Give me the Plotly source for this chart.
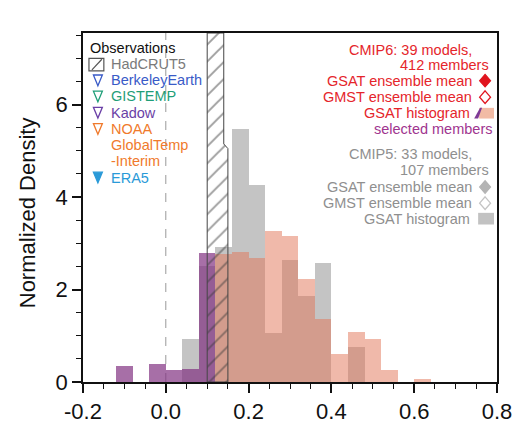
import numpy as np
import plotly.graph_objects as go

# ---- data -------------------------------------------------------------
bin_width = 0.04
bin_left = [-0.12, -0.08, -0.04, 0.00, 0.04, 0.08, 0.12, 0.16, 0.20, 0.24,
            0.28, 0.32, 0.36, 0.40, 0.44, 0.48, 0.52, 0.56, 0.60]
cmip5_gsat_hist = [0, 0, 0, 0, 0.92, 2.50, 2.92, 5.48, 4.27, 1.06,
                   2.64, 1.87, 2.57, 0, 0.76, 0, 0, 0, 0]
cmip6_gsat_hist = [0, 0, 0, 0, 0, 0, 2.76, 2.82, 2.69, 3.26,
                   3.16, 2.23, 1.37, 0.60, 1.08, 0.92, 0.26, 0, 0.07]
selected_hist = [0.34, 0, 0.39, 0.25, 0.29, 2.79, 0, 0, 0, 0,
                 0, 0, 0, 0, 0, 0, 0, 0, 0]

# HadCRUT5 range (x) with the step height where the range narrows
hadcrut_x = [0.10, 0.15, 0.15, 0.14, 0.14, 0.10, 0.10]
hadcrut_y = [0, 0, 5.05, 5.15, 7.55, 7.55, 0]

obs_names = ["NOAA", "Kadow", "GISTEMP", "BerkeleyEarth", "ERA5"]
obs_values = [0.117, 0.122, 0.125, 0.128, 0.131]
obs_colors = ["#F07A2C", "#6A3FA6", "#1F9E78", "#3A5BC7", "#2A9AD8"]
obs_symbols = ["triangle-down-open"] * 4 + ["triangle-down"]

ens_names = ["CMIP5 GMST", "CMIP5 GSAT", "CMIP6 GMST", "CMIP6 GSAT"]
ens_values = [0.218, 0.221, 0.226, 0.240]
ens_colors = ["#C4C4C4", "#B4B4B4", "#E5252B", "#E0141E"]
ens_symbols = ["diamond-open", "diamond", "diamond-open", "diamond"]

x_ticks = [-0.2, 0.0, 0.2, 0.4, 0.6, 0.8]
y_ticks = [0, 2, 4, 6]
x_range = [-0.2, 0.8]
y_range = [0, 7.55]

# ---- figure -----------------------------------------------------------
W, H = 524, 436
L, R, T, B = 83, 24, 33, 44
FONT = "Liberation Sans, Arial, Helvetica, sans-serif"

centers = np.array(bin_left) + bin_width / 2

fig = go.Figure()
fig.add_trace(go.Bar(x=centers, y=cmip5_gsat_hist, width=bin_width,
                     marker=dict(color="rgba(120,120,120,0.44)", line_width=0),
                     name="CMIP5 GSAT"))
fig.add_trace(go.Bar(x=centers, y=cmip6_gsat_hist, width=bin_width,
                     marker=dict(color="rgba(225,115,85,0.5)", line_width=0),
                     name="CMIP6 GSAT"))
fig.add_trace(go.Bar(x=centers, y=selected_hist, width=bin_width,
                     marker=dict(color="rgba(130,50,130,0.7)", line_width=0),
                     name="selected members"))

# hatched HadCRUT5 band
fig.add_trace(go.Scatter(x=hadcrut_x, y=hadcrut_y, mode="lines", fill="toself",
                         fillcolor="rgba(0,0,0,0)",
                         fillpattern=dict(shape="/", fgcolor="#3a3a3a",
                                          bgcolor="rgba(0,0,0,0)", size=12,
                                          solidity=0.16),
                         line=dict(color="#444444", width=1),
                         hoverinfo="skip", name="HadCRUT5"))

# observation markers above the frame
y_tri = y_range[1] + 14.5 / (392 - 33) * (y_range[1] - y_range[0])
for n, v, c, s in zip(obs_names, obs_values, obs_colors, obs_symbols):
    fig.add_trace(go.Scatter(x=[v], y=[y_tri], mode="markers", cliponaxis=False,
                             marker=dict(symbol=s, size=15, color=c,
                                         line=dict(color=c, width=1.5)),
                             name=n))

# ensemble means above the frame
y_dia = y_range[1] + 16.5 / (392 - 33) * (y_range[1] - y_range[0])
for n, v, c, s in zip(ens_names, ens_values, ens_colors, ens_symbols):
    fig.add_trace(go.Scatter(x=[v], y=[y_dia], mode="markers", cliponaxis=False,
                             marker=dict(symbol=s, size=17, color=c,
                                         line=dict(color=c, width=1.5)),
                             name=n))

PW, PH = W - L - R, H - T - B


def px(x):
    return (x - L) / PW


def py(y):
    return (H - B - y) / PH


shapes = [
    dict(type="line", xref="x", yref="paper", x0=0, x1=0, y0=0, y1=1,
         line=dict(color="#999999", width=1, dash="dash"), layer="below"),
]

annotations = []


def text(s, x, y, color, anchor="left", size=14.5):
    annotations.append(dict(text=s, x=px(x), y=py(y), xref="paper", yref="paper",
                            xanchor=anchor, yanchor="middle", showarrow=False,
                            font=dict(family=FONT, size=size, color=color)))


def tri_path(cx, cy, w, h):
    return (f"M {px(cx - w / 2)},{py(cy - h / 2)} L {px(cx + w / 2)},{py(cy - h / 2)} "
            f"L {px(cx)},{py(cy + h / 2)} Z")


def dia_path(cx, cy, w, h):
    return (f"M {px(cx)},{py(cy - h / 2)} L {px(cx + w / 2)},{py(cy)} "
            f"L {px(cx)},{py(cy + h / 2)} L {px(cx - w / 2)},{py(cy)} Z")


# y-axis title
annotations.append(dict(text="Normalized Density", x=px(27), y=py(218),
                        xref="paper", yref="paper", textangle=-90,
                        xanchor="center", yanchor="middle", showarrow=False,
                        font=dict(family=FONT, size=22, color="#111111")))

# observations key (upper left)
text("Observations", 88, 48, "#111111")
text("HadCRUT5", 109, 65, "#7a7a7a")
shapes.append(dict(type="rect", xref="paper", yref="paper",
                   x0=px(89), x1=px(104), y0=py(72), y1=py(59),
                   line=dict(color="#555555", width=1.2)))
shapes.append(dict(type="line", xref="paper", yref="paper",
                   x0=px(92), x1=px(102), y0=py(71), y1=py(60),
                   line=dict(color="#555555", width=1.2)))
obs_key = [("BerkeleyEarth", "#3A5BC7", False, 81.7),
           ("GISTEMP", "#1F9E78", False, 98.3),
           ("Kadow", "#6A3FA6", False, 115),
           ("NOAA", "#F07A2C", False, 131.7),
           ("ERA5", "#2A9AD8", True, 181.7)]
for label, col, filled, yy in obs_key:
    text(label, 109, yy, col)
    shapes.append(dict(type="path", xref="paper", yref="paper",
                       path=tri_path(98, yy, 9, 11),
                       line=dict(color=col, width=1.3),
                       fillcolor=col if filled else "rgba(0,0,0,0)"))
text("GlobalTemp", 109, 148.3, "#F07A2C")
text("-Interim", 109, 165, "#F07A2C")

# model key (upper right)
red, gray, purple = "#E5252B", "#8F8F8F", "#A0358F"
text("CMIP6: 39 models,", 477, 50, red, "right")
text("412 members", 494, 65.5, red, "right")
text("GSAT ensemble mean", 477, 82, red, "right")
shapes.append(dict(type="path", xref="paper", yref="paper", path=dia_path(488, 82, 11, 13),
                   line=dict(color="#E0141E", width=1.2), fillcolor="#E0141E"))
text("GMST ensemble mean", 477, 99, red, "right")
shapes.append(dict(type="path", xref="paper", yref="paper", path=dia_path(488, 99, 11, 13),
                   line=dict(color="#E0141E", width=1.3), fillcolor="rgba(0,0,0,0)"))
text("GSAT histogram", 475, 115.5, red, "right")
shapes.append(dict(type="rect", xref="paper", yref="paper",
                   x0=px(482), x1=px(497), y0=py(121), y1=py(110),
                   line_width=0, fillcolor="#F2BBA5"))
shapes.append(dict(type="path", xref="paper", yref="paper",
                   path=(f"M {px(477)},{py(121)} L {px(481)},{py(121)} "
                         f"L {px(485)},{py(110)} L {px(483)},{py(110)} Z"),
                   line_width=0, fillcolor="#7E3A96"))
text("selected members", 497, 132, purple, "right")

text("CMIP5: 33 models,", 477, 157, gray, "right")
text("107 members", 494, 173.5, gray, "right")
text("GSAT ensemble mean", 477, 191.5, gray, "right")
shapes.append(dict(type="path", xref="paper", yref="paper", path=dia_path(488, 191.5, 11, 13),
                   line=dict(color="#B4B4B4", width=1.2), fillcolor="#B4B4B4"))
text("GMST ensemble mean", 477, 208, gray, "right")
shapes.append(dict(type="path", xref="paper", yref="paper", path=dia_path(488, 208, 11, 13),
                   line=dict(color="#C4C4C4", width=1.3), fillcolor="rgba(0,0,0,0)"))
text("GSAT histogram", 475, 224.5, gray, "right")
shapes.append(dict(type="rect", xref="paper", yref="paper",
                   x0=px(481), x1=px(497), y0=py(230), y1=py(218),
                   line_width=0, fillcolor="#C2C2C2"))

axis_common = dict(showgrid=False, zeroline=False, showline=True, mirror=True,
                   linecolor="#111111", linewidth=1.5, ticks="outside",
                   tickcolor="#111111", tickwidth=1.5, ticklen=9,
                   tickfont=dict(family=FONT, size=22, color="#111111"))

fig.update_layout(
    width=W, height=H, margin=dict(l=L, r=R, t=T, b=B),
    paper_bgcolor="white", plot_bgcolor="white",
    barmode="overlay", bargap=0, showlegend=False,
    shapes=shapes, annotations=annotations,
    xaxis=dict(range=x_range, tickvals=x_ticks,
               ticktext=[f"{v:.1f}" for v in x_ticks],
               minor=dict(dtick=0.05, ticks="outside", ticklen=5,
                          tickcolor="#111111", tickwidth=1.2),
               **axis_common),
    yaxis=dict(range=y_range, tickvals=y_ticks,
               minor=dict(dtick=0.5, ticks="outside", ticklen=5,
                          tickcolor="#111111", tickwidth=1.2),
               **axis_common),
)

fig.write_html("out.html")
